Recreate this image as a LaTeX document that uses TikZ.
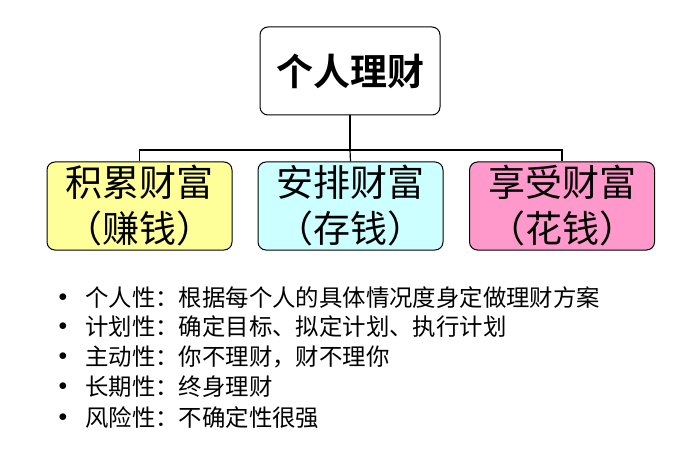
\documentclass[tikz,border=0pt]{standalone}
\usepackage{fontspec}
\newfontfamily\cjk{Noto Sans CJK SC}
\newfontfamily\cjkb{Noto Sans CJK SC Bold}
\definecolor{yel}{HTML}{FFFF99}
\definecolor{cya}{HTML}{CCFFFF}
\definecolor{pnk}{HTML}{FF99CC}
\begin{document}
\begin{tikzpicture}[x=1pt,y=-1pt,
  box/.style={draw=black,line width=1pt,rounded corners=8pt,minimum width=185pt,minimum height=88pt,align=center,inner sep=0pt,font=\cjk\fontsize{37}{46}\selectfont},
  item/.style={anchor=west,font=\cjk\fontsize{23.4}{26}\selectfont,inner sep=0pt},
  dot/.style={anchor=center,font=\fontsize{17}{20}\selectfont,inner sep=0pt},
  conn/.style={line width=1.2pt}]
\useasboundingbox (0,0) rectangle (700,470);
\node[box,fill=white,minimum width=180pt,font=\cjkb\fontsize{37}{44}\selectfont] (top) at (350,71) {个人理财};
\node[box,fill=yel] (a) at (139.5,206) {积累财富\\（赚钱）};
\node[box,fill=cya] (b) at (350.5,206) {安排财富\\（存钱）};
\node[box,fill=pnk] (c) at (562,206) {享受财富\\（花钱）};
\coordinate (j) at (350,150);
\draw[conn] (top.south) -- (j);
\draw[conn] (a.north) |- (j) -| (c.north);
\draw[conn] (j) -- (b.north);
\foreach \y/\t [count=\i] in {298/{个人性：根据每个人的具体情况度身定做理财方案},327/{计划性：确定目标、拟定计划、执行计划},357/{主动性：你不理财，财不理你},387/{长期性：终身理财},418/{风险性：不确定性很强}}{
  \node[dot] (d\i) at (63,\y) {$\bullet$};
  \node[item] (t\i) at (85,\y) {\t};
}
\end{tikzpicture}
\end{document}
